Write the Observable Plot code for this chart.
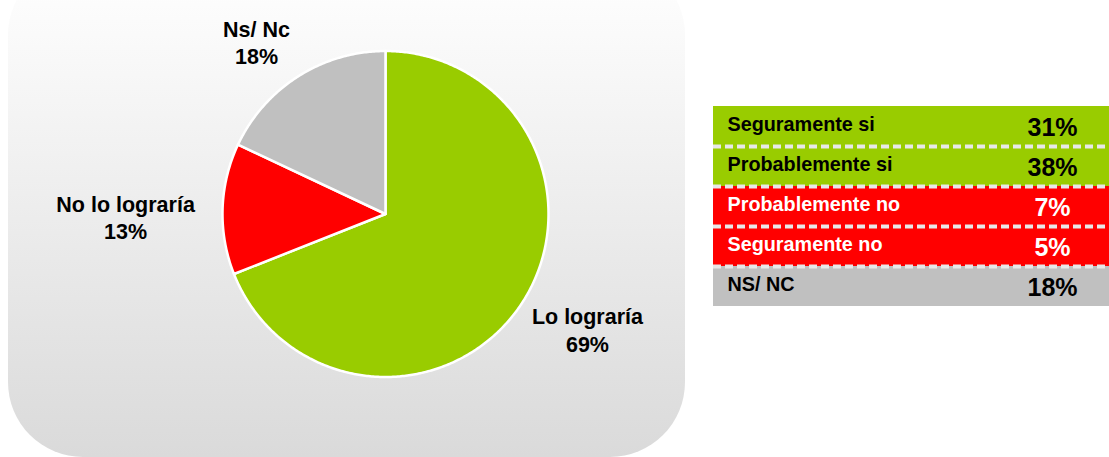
<!DOCTYPE html>
<html>
<head>
<meta charset="utf-8">
<script src="https://cdn.jsdelivr.net/npm/d3@7"></script>
<script src="https://cdn.jsdelivr.net/npm/@observablehq/plot@0.6"></script>
<style>
  html, body { margin: 0; padding: 0; background: #ffffff; }
  #wrap { position: relative; width: 1109px; height: 457px; overflow: hidden; font-family: "Liberation Sans", Arial, sans-serif; }
  #bg { position: absolute; left: 8px; top: -40px; width: 677px; height: 497px; border-radius: 75px;
        background: linear-gradient(to bottom, #ffffff 0%, #fafafa 15%, #dadada 100%); }
  #pie { position: absolute; left: 0; top: 0; }
  #table { position: absolute; left: 713px; top: 106px; }
</style>
</head>
<body>
<div id="wrap">
  <div id="bg"></div>
  <div id="pie"></div>
  <div id="table"></div>
</div>
<script>
// ---- data ----
const pieCategories = ["Lo lograría", "No lo lograría", "Ns/ Nc"];
const pieValues = [69, 13, 18];
const pieColors = ["#99CC00", "#FF0000", "#C0C0C0"];

const tableLabels = ["Seguramente si", "Probablemente si", "Probablemente no", "Seguramente no", "NS/ NC"];
const tableValues = [31, 38, 7, 5, 18];
const tableGroups = ["Lo lograría", "Lo lograría", "No lo lograría", "No lo lograría", "Ns/ Nc"];

// ---- layout ----
const CX = 385, CY = 213.5, R = 163;
const LABEL_R = 1.42;
const labelNudge = [[10.5, -15.1], [-28.6, 9.8], [-5, 23]];
const FONT = "Liberation Sans, Arial, sans-serif";

// ---- pie ----
const pieRows = pieCategories.map((c, i) => ({cat: c, value: pieValues[i]}));
const arcs = d3.pie().sort(null).value(d => d.value)(pieRows);
const points = arcs.flatMap(a => {
  const cat = a.data.cat;
  const n = Math.max(2, Math.ceil((a.endAngle - a.startAngle) / 0.01));
  const pts = [{cat, x: 0, y: 0}];
  for (let k = 0; k <= n; k++) {
    const ang = a.startAngle + (a.endAngle - a.startAngle) * k / n;
    pts.push({cat, x: Math.sin(ang), y: Math.cos(ang)});
  }
  pts.push({cat, x: 0, y: 0});
  return pts;
});
const labels = arcs.map((a, i) => {
  const mid = (a.startAngle + a.endAngle) / 2;
  return {
    x: LABEL_R * Math.sin(mid) + labelNudge[i][0] / R,
    y: LABEL_R * Math.cos(mid) - labelNudge[i][1] / R,
    text: `${a.data.cat}\n${a.data.value}%`
  };
});

const pie = Plot.plot({
  width: 700, height: 457, margin: 0,
  x: {domain: [-1, 1], range: [CX - R, CX + R], axis: null},
  y: {domain: [-1, 1], range: [CY + R, CY - R], axis: null},
  color: {domain: pieCategories, range: pieColors},
  style: {background: "transparent", overflow: "visible"},
  marks: [
    Plot.line(points, {x: "x", y: "y", z: "cat", fill: "cat", stroke: "white", strokeWidth: 2.5, strokeLinejoin: "round"}),
    Plot.text(labels, {x: "x", y: "y", text: "text", fontSize: 21.5, fontWeight: "bold", fontFamily: FONT, lineHeight: 1.3, fill: "black"})
  ]
});
document.getElementById("pie").appendChild(pie);

// ---- table ----
const tableRows = tableLabels.map((l, i) => ({i, label: l, value: tableValues[i], group: tableGroups[i]}));
const TW = 396, TH = 200;
const LABEL_DX = 14, PCT_X = 339 / TW;
const isRed = d => d.group === "No lo lograría";

const table = Plot.plot({
  width: TW, height: TH, margin: 0,
  x: {domain: [0, 1], range: [0, TW], axis: null},
  y: {domain: [0, tableRows.length], range: [0, TH], axis: null},
  color: {domain: pieCategories, range: pieColors},
  style: {background: "transparent", overflow: "visible"},
  marks: [
    Plot.rect(tableRows, {x1: 0, x2: 1, y1: "i", y2: d => d.i + 1, fill: "group"}),
    Plot.ruleY(d3.range(1, tableRows.length), {stroke: "#E8E8E8", strokeWidth: 4, strokeDasharray: "8,4"}),
    Plot.text(tableRows, {filter: d => !isRed(d), x: 0, y: d => d.i + 0.5, text: "label", textAnchor: "start", dx: LABEL_DX, dy: -1.5, fontSize: 19.8, fontWeight: "bold", fontFamily: FONT, fill: "black"}),
    Plot.text(tableRows, {filter: isRed, x: 0, y: d => d.i + 0.5, text: "label", textAnchor: "start", dx: LABEL_DX, dy: -1.5, fontSize: 19.8, fontWeight: "bold", fontFamily: FONT, fill: "white"}),
    Plot.text(tableRows, {filter: d => !isRed(d), x: PCT_X, y: d => d.i + 0.5, text: d => `${d.value}%`, dy: 1.5, fontSize: 25, fontWeight: "bold", fontFamily: FONT, fill: "black"}),
    Plot.text(tableRows, {filter: isRed, x: PCT_X, y: d => d.i + 0.5, text: d => `${d.value}%`, dy: 1.5, fontSize: 25, fontWeight: "bold", fontFamily: FONT, fill: "white"})
  ]
});
document.getElementById("table").appendChild(table);
</script>
</body>
</html>
